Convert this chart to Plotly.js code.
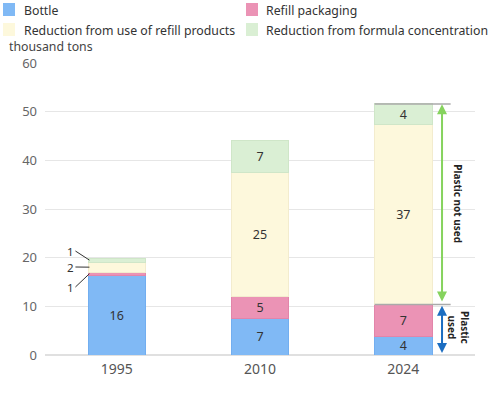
<!DOCTYPE html>
<html>
<head>
<meta charset="utf-8">
<script src="https://cdn.plot.ly/plotly-3.0.1.min.js"></script>
<style>html,body{margin:0;padding:0;background:#fff;}#chart{width:500px;height:396px;}</style>
</head>
<body>
<div id="chart"></div>
<script>
// ---- data (thousand tons) ----
var years = ['1995', '2010', '2024'];
var bottle = [16.4, 7.4, 3.7];
var refillPackaging = [0.6, 4.6, 6.7];
var refillReduction = [2.1, 25.4, 36.9];
var formulaReduction = [0.8, 6.6, 4.3];
var seriesNames = ['Bottle', 'Refill packaging', 'Reduction from use of refill products', 'Reduction from formula concentration'];
var unitLabel = 'thousand tons';
var yTicks = [0, 10, 20, 30, 40, 50, 60];

var colors = ['#80b9f5', '#eb93b5', '#fdf8dc', '#daefd4'];
var borders = ['#72aef0', '#e285aa', '#f3ecce', '#cfe6c8'];
var FONT = 'Noto Sans, sans-serif';

function labels(arr, hideFirst) {
  return arr.map(function (v, i) { return (hideFirst && i === 0) ? '' : String(Math.round(v)); });
}
var series = [bottle, refillPackaging, refillReduction, formulaReduction];
var traces = series.map(function (vals, k) {
  return {
    type: 'bar', x: years, y: vals, name: seriesNames[k],
    width: 0.4,
    marker: {color: colors[k], line: {color: borders[k], width: 1}},
    text: labels(vals, k > 0), textposition: 'inside', insidetextanchor: 'middle',
    textangle: 0, constraintext: 'none',
    textfont: {family: FONT, size: 12.5, color: '#333'},
    hoverinfo: 'skip', showlegend: false
  };
});

// totals
var used = years.map(function (_, i) { return bottle[i] + refillPackaging[i]; });
var total = years.map(function (_, i) { return used[i] + refillReduction[i] + formulaReduction[i]; });

// dashed connector of "plastic used" levels
var hw = 0.2;
traces.push({
  type: 'scatter', mode: 'lines',
  x: [0 + hw, 0.5, 0.5, 1 - hw, null, 1 + hw, 1.5, 1.5, 2 - hw],
  y: [used[0], used[0], used[1], used[1], null, used[1], used[1], used[2], used[2]],
  line: {color: '#999', width: 1.5, dash: '3px,2px'},
  hoverinfo: 'skip', showlegend: false, connectgaps: false
});

// pixel helpers for paper coords
var L = 45, T = 63, W = 430, H = 292;
function px(x) { return (x - L) / W; }
function py(y) { return (T + H - y) / H; }

var shapes = [
  {type: 'line', xref: 'x', yref: 'y', x0: 2 - hw, x1: 2.33, y0: total[2], y1: total[2], line: {color: '#aaa', width: 1.5}},
  {type: 'line', xref: 'x', yref: 'y', x0: 2 - hw, x1: 2.33, y0: used[2], y1: used[2], line: {color: '#aaa', width: 1.5}}
];
var annotations = [];

// manual legend
var legPos = [[3, 9, 22], [246, 9, 264], [3, 29, 22], [246, 29, 264]];
seriesNames.forEach(function (n, k) {
  var p = legPos[k];
  shapes.push({type: 'rect', xref: 'paper', yref: 'paper', x0: px(p[0]), x1: px(p[0] + 12), y0: py(p[1] - 6), y1: py(p[1] + 7),
    fillcolor: colors[k], line: {width: 0}});
  annotations.push({xref: 'paper', yref: 'paper', x: px(p[2]), y: py(p[1] + 1), xanchor: 'left', yanchor: 'middle',
    text: n, showarrow: false, font: {family: FONT, size: 12.3, color: '#333'}});
});
annotations.push({xref: 'paper', yref: 'paper', x: px(7), y: py(46), xanchor: 'left', yanchor: 'middle',
  text: unitLabel, showarrow: false, font: {family: FONT, size: 12.3, color: '#444'}});

// 1995 small segment labels
var b0 = bottle[0], p0 = refillPackaging[0], r0 = refillReduction[0], f0 = formulaReduction[0];
var smallLabels = [
  {v: f0, yv: b0 + p0 + r0 + f0 * 0.5, ty: 251 },
  {v: r0, yv: b0 + p0 + r0 * 0.5, ty: 267 },
  {v: p0, yv: b0 + p0 * 0.5, ty: 287 }
];
smallLabels.forEach(function (s) {
  annotations.push({xref: 'x', yref: 'y', x: -hw + 0.01, y: s.yv, axref: 'pixel', ayref: 'pixel',
    ax: -14, ay: (s.ty) - (T + H - s.yv * H / 60),
    text: String(Math.round(s.v)), showarrow: true, arrowhead: 0, arrowwidth: 1, arrowcolor: '#333',
    standoff: 0, startstandoff: 0, borderpad: 0,
    font: {family: FONT, size: 11.5, color: '#333'}, xanchor: 'right'});
});

// arrows
var ax = 2.27;
annotations.push({xref: 'x', yref: 'y', x: ax, y: total[2] - 0.1, axref: 'x', ayref: 'y', ax: ax, ay: used[2] + 0.3,
  text: '', showarrow: true, arrowhead: 2, arrowside: 'end+start', arrowsize: 1, arrowwidth: 2, arrowcolor: '#86d35e'});
annotations.push({xref: 'x', yref: 'y', x: ax, y: used[2] - 0.3, axref: 'x', ayref: 'y', ax: ax, ay: 0.1,
  text: '', showarrow: true, arrowhead: 2, arrowside: 'end+start', arrowsize: 1, arrowwidth: 2, arrowcolor: '#1b6dc1'});
annotations.push({xref: 'x', yref: 'y', x: 2.38, y: (total[2] + used[2]) / 2, text: 'Plastic not used', textangle: 90,
  showarrow: false, font: {family: FONT, size: 10, color: '#222', weight: 'bold'}});
annotations.push({xref: 'x', yref: 'y', x: 2.38, y: used[2] / 2 + 0.4, text: 'Plastic<br>used', textangle: 90,
  showarrow: false, font: {family: FONT, size: 10, color: '#222', weight: 'bold'}});

var layout = {
  width: 500, height: 396,
  margin: {l: L, r: 500 - L - W, t: T, b: 396 - T - H},
  paper_bgcolor: '#fff', plot_bgcolor: '#fff',
  barmode: 'stack', showlegend: false,
  font: {family: FONT, color: '#555'},
  xaxis: {type: 'category', range: [-0.5, 2.5], fixedrange: true, showgrid: false, showline: false, zeroline: false,
    tickfont: {family: FONT, size: 14, color: '#555'}, ticks: '', ticklabelstandoff: 4},
  yaxis: {range: [0, 60], tickvals: yTicks, showgrid: true, gridcolor: '#e6e6e6', gridwidth: 1,
    zeroline: true, zerolinecolor: '#e0e0e0', zerolinewidth: 1.5, showline: false, ticks: '',
    tickfont: {family: FONT, size: 13, color: '#666'}, ticklabelstandoff: 7},
  shapes: shapes, annotations: annotations
};

Plotly.newPlot('chart', traces, layout, {staticPlot: true, displayModeBar: false});
</script>
</body>
</html>
